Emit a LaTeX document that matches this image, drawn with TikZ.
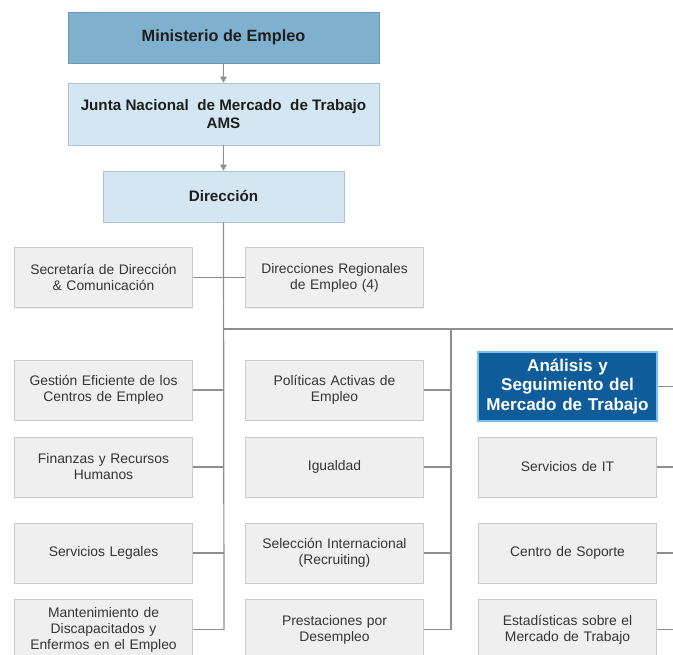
\documentclass[tikz,border=0pt]{standalone}
\usepackage{fontspec}
\setmainfont{Liberation Sans}
\usetikzlibrary{arrows.meta,shadows}

\definecolor{topblue}{HTML}{7FB1CF}
\definecolor{topblueline}{HTML}{6A9BB8}
\definecolor{paleblue}{HTML}{D3E6F1}
\definecolor{paleblueline}{HTML}{A8C5D7}
\definecolor{unitfill}{HTML}{EFEFEF}
\definecolor{unitline}{HTML}{CACACA}
\definecolor{keyfill}{HTML}{0E5D9A}
\definecolor{keyline}{HTML}{7CC0EE}
\definecolor{wire}{HTML}{8E8E8E}
\definecolor{ink}{HTML}{1E1E1E}

\tikzset{
  boxbase/.style={rectangle, align=center, inner sep=2pt,
    drop shadow={shadow xshift=0.8pt, shadow yshift=-0.8pt, fill=black!14}},
  headbox/.style={boxbase, fill=topblue, draw=topblueline, line width=0.6pt,
    font=\bfseries\fontsize{12.2}{14}\selectfont, text=ink,
    minimum width=233.25pt, minimum height=38.25pt},
  boardbox/.style={boxbase, fill=paleblue, draw=paleblueline, line width=0.6pt,
    font=\bfseries\fontsize{11.4}{13.5}\selectfont, text=ink,
    minimum width=233.25pt, minimum height=46.5pt},
  dirbox/.style={boardbox, minimum width=180.75pt, minimum height=38.25pt},
  unitbox/.style={boxbase, fill=unitfill, draw=unitline, line width=0.6pt,
    font=\fontsize{10.4}{12}\selectfont, text=ink!90,
    minimum width=133pt, minimum height=45pt, text width=128pt},
  keybox/.style={rectangle, align=center, fill=keyfill, draw=keyline, line width=1.4pt,
    font=\bfseries\fontsize{12.8}{14.4}\selectfont, text=white,
    minimum width=134pt, minimum height=51.75pt, text width=132pt, inner sep=1pt},
  wireline/.style={draw=wire, line width=0.9pt},
  wirearrow/.style={wireline, -{Triangle[width=5pt,length=4.5pt]}},
}

\begin{document}
\begin{tikzpicture}[x=0.75pt,y=-0.75pt]
\useasboundingbox (0,0) rectangle (673,655);
\clip (0,0) rectangle (673,655);

% top of the hierarchy
\node[headbox]  (min)  at (223.5,37.5) {Ministerio de Empleo};
\node[boardbox] (junta) at (223.5,114) {Junta Nacional \ de Mercado \ de Trabajo\\AMS};
\node[dirbox]   (dir)  at (223.5,196.5) {Dirección};

\draw[wirearrow] (min.south) -- (junta.north);
\draw[wirearrow] (junta.south) -- (dir.north);

% bus positions
\coordinate (trunkend) at (224,630);
\coordinate (busL) at (224,329);
\coordinate (busR) at (673,329);
\coordinate (midbus) at (451,329);
\coordinate (midend) at (451,630);
\coordinate (rightbus) at (673,0);

% staff units next to the direction
\node[unitbox] (secr) at (103.5,277.5) {Secretaría de Dirección\\\& Comunicación};
\node[unitbox] (regio) at (334.5,277.5) {Direcciones Regionales\\de Empleo (4)};

% left column
\node[unitbox] (gest) at (103.5,390) {Gestión Eficiente de los\\Centros de Empleo};
\node[unitbox] (fina) at (103.5,467) {Finanzas y Recursos\\Humanos};
\node[unitbox] (legal) at (103.5,553) {Servicios Legales};
\node[unitbox] (mant) at (103.5,629.5) {Mantenimiento de\\Discapacitados y\\Enfermos en el Empleo};

% middle column
\node[unitbox] (polit) at (334.5,390) {Políticas Activas de\\Empleo};
\node[unitbox] (igual) at (334.5,467) {Igualdad};
\node[unitbox] (selec) at (334.5,553) {Selección Internacional\\(Recruiting)};
\node[unitbox] (prest) at (334.5,629.5) {Prestaciones por\\Desempleo};

% right column
\node[keybox]  (anal) at (567.5,386.5) {Análisis y\\Seguimiento del\\Mercado de Trabajo};
\node[unitbox] (itsv) at (567.5,467) {Servicios de IT};
\node[unitbox] (sopo) at (567.5,553) {Centro de Soporte};
\node[unitbox] (esta) at (567.5,629.5) {Estadísticas sobre el\\Mercado de Trabajo};

% trunk and buses
\draw[wireline] (dir.south) -- (trunkend);
\draw[wireline] (busL) -- (busR);
\draw[wireline] (midbus) -- (midend);

% branches to the trunk
\draw[wireline] (secr.east) -- (secr.east -| trunkend);
\draw[wireline] (regio.west) -- (regio.west -| trunkend);
\foreach \n in {gest,fina,legal,mant}
  \draw[wireline] (\n.east) -- (\n.east -| trunkend);

% branches to the middle bus
\foreach \n in {polit,igual,selec,prest}
  \draw[wireline] (\n.east) -- (\n.east -| midend);

% branches to the right bus
\foreach \n in {anal,itsv,sopo,esta}
  \draw[wireline] (\n.east) -- (\n.east -| rightbus);
\end{tikzpicture}
\end{document}
